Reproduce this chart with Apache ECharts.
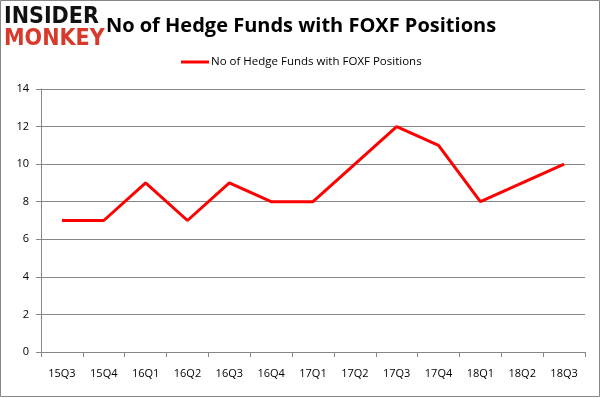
<!DOCTYPE html>
<html><head><meta charset="utf-8">
<script src="https://cdn.jsdelivr.net/npm/echarts@6/dist/echarts.min.js"></script>
<style>html,body{margin:0;padding:0;background:#fff}#c{width:602px;height:398px}</style>
</head><body><div id="c"></div>
<script>
var categories = ['15Q3','15Q4','16Q1','16Q2','16Q3','16Q4','17Q1','17Q2','17Q3','17Q4','18Q1','18Q2','18Q3'];
var values = [7,7,9,7,9,8,8,10,12,11,8,9,10];
var yTicks = {min:0, max:14, interval:2};
var seriesName = 'No of Hedge Funds with FOXF Positions';
var titleText = 'No of Hedge Funds with FOXF Positions';

var chart = echarts.init(document.getElementById('c'), null, {renderer:'canvas'});
chart.setOption({
  animation:false,
  backgroundColor:'#fff',
  graphic:[
    {type:'rect', shape:{x:0.5,y:0.5,width:599,height:396}, style:{fill:'none', stroke:'#868686', lineWidth:1}},
    {type:'text', left:4, top:6, style:{text:'INSIDER', font:'900 23px "DejaVu Sans Condensed"', fill:'#111'}},
    {type:'text', left:4, top:28, style:{text:'MONKEY', font:'900 23px "DejaVu Sans Condensed"', fill:'#d8392b'}}
  ],
  title:{text:titleText, left:296, textAlign:'center', top:11,
    textStyle:{fontFamily:'Open Sans', fontWeight:'bold', fontSize:20, color:'#000'}},
  legend:{top:56, left:181, padding:0, itemWidth:28, itemHeight:3, itemGap:4, icon:'rect',
    textStyle:{fontFamily:'Open Sans', fontSize:11.5, color:'#000', padding:[0,0,0,-3]},
    data:[{name:seriesName}]},
  grid:{left:41, right:17, top:89, bottom:46, containLabel:false},
  xAxis:{type:'category', data:categories, boundaryGap:true,
    axisLine:{lineStyle:{color:'#868686'}},
    axisTick:{show:true, length:5, lineStyle:{color:'#868686'}},
    axisLabel:{margin:16, fontFamily:'Open Sans', fontSize:11, color:'#000'}},
  yAxis:{type:'value', min:yTicks.min, max:yTicks.max, interval:yTicks.interval,
    axisLine:{show:true, lineStyle:{color:'#868686'}},
    axisTick:{show:true, length:5, lineStyle:{color:'#868686'}},
    splitLine:{lineStyle:{color:'#868686'}},
    axisLabel:{margin:12, fontFamily:'Open Sans', fontSize:11, color:'#000'}},
  series:[{name:seriesName, type:'line', data:values, symbol:'none',
    lineStyle:{color:'#ff0000', width:3}, itemStyle:{color:'#ff0000'}}]
});
</script></body></html>
